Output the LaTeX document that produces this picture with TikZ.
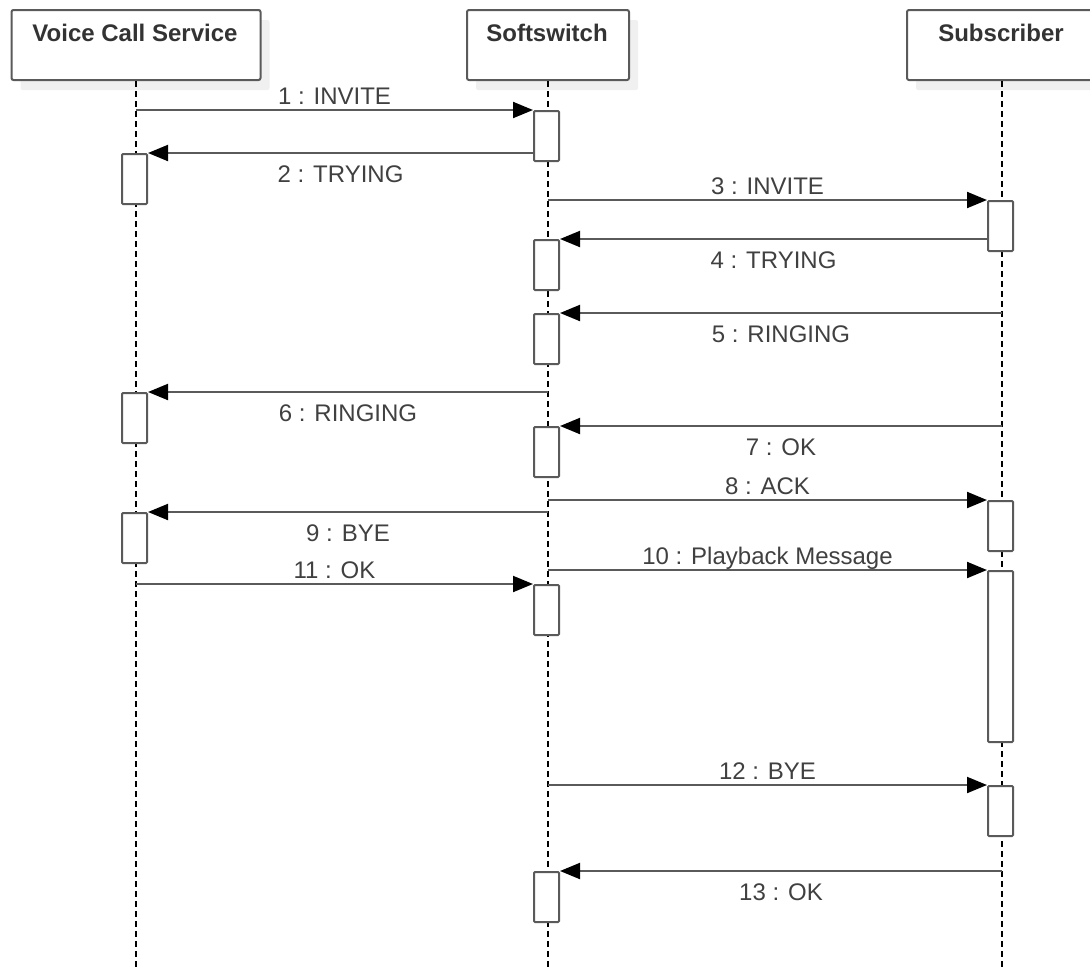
\documentclass[tikz,border=0pt]{standalone}
\usepackage{fontspec}
\setmainfont{Liberation Sans}
\usetikzlibrary{arrows.meta,shadows}
\definecolor{edgegray}{HTML}{5A5A5A}
\definecolor{textgray}{HTML}{404040}
\definecolor{titlegray}{HTML}{333333}
\definecolor{shadegray}{HTML}{F0F0F0}
\begin{document}
\begin{tikzpicture}[x=1pt,y=-1pt,
  header/.style={draw=edgegray, line width=2pt, fill=white, rounded corners=2pt,
    inner sep=0pt, minimum height=70pt, anchor=north,
    drop shadow={shadow xshift=9pt, shadow yshift=-10pt, fill=shadegray, opacity=1}},
  titletext/.style={font=\fontsize{24}{28}\selectfont\bfseries, text=titlegray, anchor=base, inner sep=0pt},
  lifeline/.style={draw=black, line width=1.6pt, dash pattern=on 6pt off 4pt},
  actbox/.style={draw=edgegray, line width=2pt, fill=white, rounded corners=1pt,
    inner sep=0pt, minimum width=25pt, minimum height=50pt, anchor=north},
  msg/.style={draw=edgegray, line width=2pt, -{Triangle[length=20pt,width=16pt,color=black]}},
  msgabove/.style={font=\fontsize{24}{28}\selectfont, text=textgray, anchor=base, yshift=6pt, inner sep=0pt},
  msgbelow/.style={font=\fontsize{24}{28}\selectfont, text=textgray, anchor=base, yshift=-29pt, inner sep=0pt}
]
\useasboundingbox (0,0) rectangle (1090,970);

% headers
\node[header, minimum width=249pt] (vcs) at (136,9) {};
\node[titletext] (vcst) at (135,41) {Voice Call Service};
\node[header, minimum width=162pt] (ss) at (548,9) {};
\node[titletext] (sst) at (547,41) {Softswitch};
\node[header, minimum width=190pt] (sub) at (1002,9) {};
\node[titletext] (subt) at (1001,41) {Subscriber};

% lifeline ends
\coordinate (vend) at (136,970);
\coordinate (send) at (548,970);
\coordinate (bend) at (1002,970);
\draw[lifeline] (vcs.south) -- (vend);
\draw[lifeline] (ss.south) -- (send);
\draw[lifeline] (sub.south) -- (bend);

% activation boxes
\node[actbox] (a1) at (546.5,110) {};
\node[actbox] (v1) at (134.5,153) {};
\node[actbox] (b1) at (1000.5,200) {};
\node[actbox] (a2) at (546.5,239) {};
\node[actbox] (a3) at (546.5,313) {};
\node[actbox] (v2) at (134.5,392) {};
\node[actbox] (a4) at (546.5,426) {};
\node[actbox] (b2) at (1000.5,500) {};
\node[actbox] (v3) at (134.5,512) {};
\node[actbox, minimum height=171pt] (b3) at (1000.5,570) {};
\node[actbox] (a5) at (546.5,584) {};
\node[actbox] (b4) at (1000.5,785) {};
\node[actbox] (a6) at (546.5,871) {};

% messages
\draw[msg] (vcs.south |- a1.north) -- (a1.north west) node[msgabove, midway] {1 : INVITE};
\draw[msg] (a1.west |- v1.north) -- (v1.north east) node[msgbelow, midway] {2 : TRYING};
\draw[msg] (ss.south |- b1.north) -- (b1.north west) node[msgabove, midway] {3 : INVITE};
\draw[msg] (b1.west |- a2.north) -- (a2.north east) node[msgbelow, midway] {4 : TRYING};
\draw[msg] (sub.south |- a3.north) -- (a3.north east) node[msgbelow, midway] {5 : RINGING};
\draw[msg] (ss.south |- v2.north) -- (v2.north east) node[msgbelow, midway] {6 : RINGING};
\draw[msg] (sub.south |- a4.north) -- (a4.north east) node[msgbelow, midway] {7 : OK};
\draw[msg] (ss.south |- b2.north) -- (b2.north west) node[msgabove, midway] {8 : ACK};
\draw[msg] (ss.south |- v3.north) -- (v3.north east) node[msgbelow, midway] {9 : BYE};
\draw[msg] (ss.south |- b3.north) -- (b3.north west) node[msgabove, midway] {10 : Playback Message};
\draw[msg] (vcs.south |- a5.north) -- (a5.north west) node[msgabove, midway] {11 : OK};
\draw[msg] (ss.south |- b4.north) -- (b4.north west) node[msgabove, midway] {12 : BYE};
\draw[msg] (sub.south |- a6.north) -- (a6.north east) node[msgbelow, midway] {13 : OK};
\end{tikzpicture}
\end{document}
